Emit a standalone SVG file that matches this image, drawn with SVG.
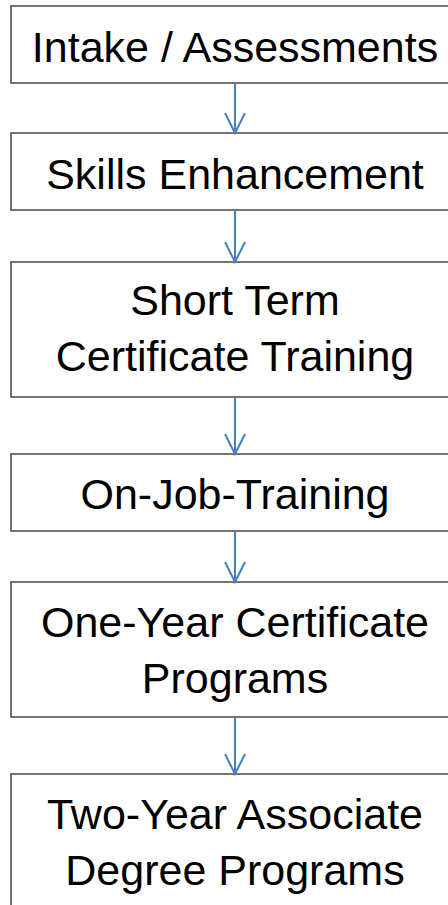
<svg xmlns="http://www.w3.org/2000/svg" width="448" height="905" viewBox="0 0 448 905">
<defs>
<style>
.box{fill:#ffffff;stroke:#3a3a3a;stroke-width:1.4}
.lbl{font-family:"Liberation Sans",Arial,sans-serif;font-size:43px;fill:#000;text-anchor:middle}
.conn{stroke:#4a7ebb;stroke-width:2;fill:none}
</style>
</defs>
<rect width="448" height="905" fill="#ffffff"/>
<g id="n1"><rect class="box" x="11" y="6" width="448" height="77"/><text class="lbl" x="235" y="62">Intake / Assessments</text></g>
<g id="n2"><rect class="box" x="11" y="133" width="448" height="77"/><text class="lbl" x="235" y="189">Skills Enhancement</text></g>
<g id="n3"><rect class="box" x="11" y="262" width="448" height="135"/><text class="lbl" x="235" y="315">Short Term</text><text class="lbl" x="235" y="371">Certificate Training</text></g>
<g id="n4"><rect class="box" x="11" y="454" width="448" height="77"/><text class="lbl" x="235" y="509">On-Job-Training</text></g>
<g id="n5"><rect class="box" x="11" y="582" width="448" height="135"/><text class="lbl" x="235" y="637">One-Year Certificate</text><text class="lbl" x="235" y="693">Programs</text></g>
<g id="n6"><rect class="box" x="11" y="774" width="448" height="160"/><text class="lbl" x="235" y="829">Two-Year Associate</text><text class="lbl" x="235" y="885">Degree Programs</text></g>
<g id="connectors">
<path class="conn" d="M235 83V133M225 113L235 133L245 113"/>
<path class="conn" d="M235 210V262M225 242L235 262L245 242"/>
<path class="conn" d="M235 397V454M225 434L235 454L245 434"/>
<path class="conn" d="M235 531V582M225 562L235 582L245 562"/>
<path class="conn" d="M235 717V774M225 754L235 774L245 754"/>
</g>
</svg>
